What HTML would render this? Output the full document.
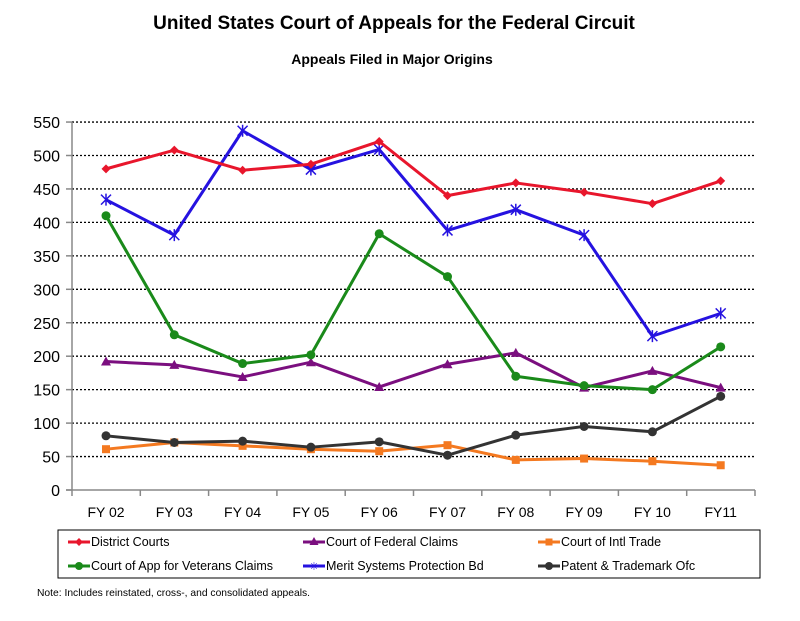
<!DOCTYPE html>
<html><head><style>body{margin:0;background:#fff}svg{display:block}</style></head><body>
<svg width="800" height="621" viewBox="0 0 800 621" xmlns="http://www.w3.org/2000/svg" font-family="Liberation Sans, Arial, sans-serif">
<text x="394" y="29" text-anchor="middle" font-size="19" font-weight="bold">United States Court of Appeals for the Federal Circuit</text>
<text x="392" y="64" text-anchor="middle" font-size="14" font-weight="bold">Appeals Filed in Major Origins</text>
<g id="grid" stroke="#000" stroke-width="1.3" stroke-dasharray="2,2"></g>
<line x1="72" y1="122" x2="72" y2="490" stroke="#888" stroke-width="1.5"/>
<line x1="66" y1="490" x2="755" y2="490" stroke="#888" stroke-width="1.5"/>
<g id="ticks" stroke="#888" stroke-width="1.5"></g>
<g id="ylab" font-size="16" text-anchor="end"></g>
<g id="xlab" font-size="14" text-anchor="middle"></g>
<g id="series"></g>
<rect x="58" y="530" width="702" height="48" fill="none" stroke="#000" stroke-width="1"/>
<g font-size="12.5">
<line x1="68" y1="542" x2="90" y2="542" stroke="#e8162c" stroke-width="3"/><path d="M79 538l4 4-4 4-4-4z" fill="#e8162c"/><text x="91" y="546">District Courts</text>
<line x1="303" y1="542" x2="325" y2="542" stroke="#7b0f7f" stroke-width="3"/><path d="M314 537l4.5 8h-9z" fill="#7b0f7f"/><text x="326" y="546">Court of Federal Claims</text>
<line x1="538" y1="542" x2="560" y2="542" stroke="#f47920" stroke-width="3"/><rect x="545.5" y="538.5" width="7" height="7" fill="#f47920"/><text x="561" y="546">Court of Intl Trade</text>
<line x1="68" y1="566" x2="90" y2="566" stroke="#1a8a1a" stroke-width="3"/><circle cx="79" cy="566" r="4" fill="#1a8a1a"/><text x="91" y="570">Court of App for Veterans Claims</text>
<line x1="303" y1="566" x2="325" y2="566" stroke="#2512e0" stroke-width="3"/><text x="314" y="570" font-size="11" text-anchor="middle" fill="#2512e0">✳</text><text x="326" y="570">Merit Systems Protection Bd</text>
<line x1="538" y1="566" x2="560" y2="566" stroke="#333" stroke-width="3"/><circle cx="549" cy="566" r="4" fill="#333"/><text x="561" y="570">Patent &amp; Trademark Ofc</text>
</g>
<text x="37" y="596" font-size="10.3">Note:  Includes reinstated, cross-, and consolidated appeals.</text>
<script>
var NS="http://www.w3.org/2000/svg";
function el(p,t,a,txt){var e=document.createElementNS(NS,t);for(var k in a)e.setAttribute(k,a[k]);if(txt!=null)e.textContent=txt;document.getElementById(p).appendChild(e);return e;}
function Y(v){return 490-v*0.669;}
function X(i){return 106+i*68.3;}
for(var v=50;v<=550;v+=50){el("grid","line",{x1:72,x2:755,y1:Y(v),y2:Y(v)});}
for(var v=0;v<=550;v+=50){el("ylab","text",{x:60,y:Y(v)+6},v);el("ticks","line",{x1:66,x2:72,y1:Y(v),y2:Y(v)});}
for(var i=0;i<=10;i++)el("ticks","line",{x1:72+i*68.3,x2:72+i*68.3,y1:490,y2:496});
var L=["FY 02","FY 03","FY 04","FY 05","FY 06","FY 07","FY 08","FY 09","FY 10","FY11"];
L.forEach(function(s,i){el("xlab","text",{x:X(i),y:517},s);});
var S=[
["#f47920","sq",[61,71,66,61,58,67,45,47,43,37]],
["#333","c",[81,71,73,64,72,52,82,95,87,140]],
["#7b0f7f","t",[192,187,169,191,154,188,205,153,178,153]],
["#1a8a1a","c",[410,232,189,202,383,319,170,156,150,214]],
["#2512e0","x",[434,381,537,479,509,388,419,381,230,264]],
["#e8162c","d",[480,508,478,487,521,440,459,445,428,462]]];
S.forEach(function(s){var pts=s[2].map(function(v,i){return X(i)+","+Y(v);}).join(" ");
el("series","polyline",{points:pts,fill:"none",stroke:s[0],"stroke-width":3,"stroke-linejoin":"round"});
s[2].forEach(function(v,i){var x=X(i),y=Y(v);
if(s[1]=="sq")el("series","rect",{x:x-4,y:y-4,width:8,height:8,fill:s[0]});
else if(s[1]=="c")el("series","circle",{cx:x,cy:y,r:4.5,fill:s[0]});
else if(s[1]=="t")el("series","path",{d:"M"+x+" "+(y-5)+"l5 9h-10z",fill:s[0]});
else if(s[1]=="d")el("series","path",{d:"M"+x+" "+(y-4.5)+"l4.5 4.5-4.5 4.5-4.5-4.5z",fill:s[0]});
else{el("series","path",{d:"M"+(x-5)+" "+(y-5)+"l10 10M"+(x+5)+" "+(y-5)+"l-10 10M"+x+" "+(y-6)+"v12",stroke:s[0],"stroke-width":1.5});}
});});
</script>
</svg>
</body></html>
